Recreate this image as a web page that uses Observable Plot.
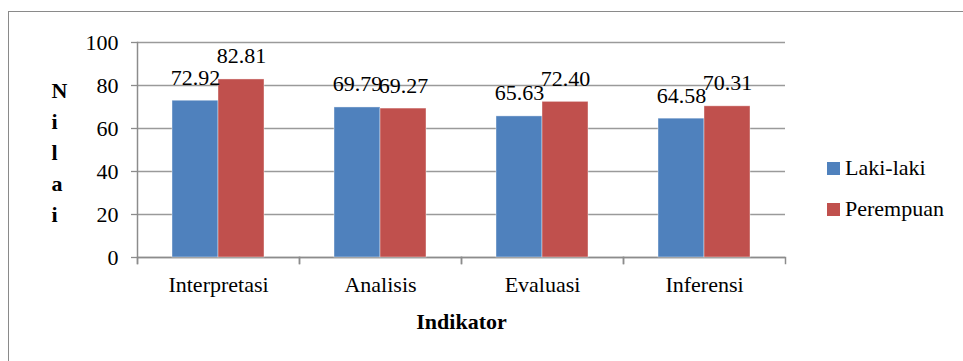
<!DOCTYPE html>
<html><head><meta charset="utf-8">
<script src="https://cdn.jsdelivr.net/npm/d3@7"></script>
<script src="https://cdn.jsdelivr.net/npm/@observablehq/plot@0.6"></script>
<style>
body{margin:0;background:#fff;}
#wrap{position:relative;width:963px;height:361px;overflow:hidden;font-family:"Liberation Serif","Times New Roman",serif;}
#border{position:absolute;left:8px;top:11px;width:1000px;height:400px;border-left:1.5px solid #8a8a8a;border-top:1.5px solid #8a8a8a;}
#chart{position:absolute;left:0;top:0;}
#legend{position:absolute;left:827px;top:156px;}
#wrap svg, #wrap svg text, #legend, #legend *{font-family:"Liberation Serif","Times New Roman",serif !important;}
#legend, #legend *{font-size:22px !important;color:#000 !important;line-height:24px !important;}
#legend .lg-swatch{padding-bottom:17px !important;margin:0 !important;display:flex;align-items:center;}
#legend .lg-swatch svg{margin-right:5px !important;}
g[aria-label="fx-axis label"] text{font-weight:bold;}
</style></head><body>
<div id="wrap"><div id="border"></div><div id="chart"></div><div id="legend"></div></div>
<script>
const categories = ["Interpretasi","Analisis","Evaluasi","Inferensi"];
const series = ["Laki-laki","Perempuan"];
const lakiLaki = [72.92,69.79,65.63,64.58];
const perempuan = [82.81,69.27,72.40,70.31];
const yTicks = [0,20,40,60,80,100];
const colors = ["#4F81BD","#C0504D"];
const yTitle = "Nilai";
const xTitle = "Indikator";

const data = [];
categories.forEach((c,i)=>{
  data.push({category:c, series:series[0], value:lakiLaki[i]});
  data.push({category:c, series:series[1], value:perempuan[i]});
});

const font = "Liberation Serif";
const gray = "#8c8c8c";
const fs = 22;
const plot = Plot.plot({
  width: 963, height: 361,
  marginLeft: 137, marginRight: 178, marginTop: 42, marginBottom: 104,
  style: {fontFamily: font, fontSize: fs + "px", color: "#000", background: "transparent", overflow: "visible"},
  fx: {domain: categories, padding: 0},
  x: {domain: series, paddingInner: 0, paddingOuter: 0.742, axis: null},
  y: {domain: [0,100], ticks: yTicks},
  color: {domain: series, range: colors},
  marks: [
    Plot.gridY(yTicks, {stroke: "#9a9a9a", strokeOpacity: 1, strokeWidth: 1.3}),
    Plot.axisY(yTicks, {tickSize: 6, tickPadding: 13, stroke: gray, strokeWidth: 1.3, label: null, fontSize: fs, fontFamily: font}),
    Plot.frame({anchor: "left", facetAnchor: "left", stroke: gray, strokeWidth: 1.5, insetBottom: -6}),
    Plot.frame({anchor: "left", stroke: gray, strokeWidth: 1.5, insetTop: 215, insetBottom: -6}),
    Plot.frame({anchor: "right", stroke: gray, strokeWidth: 1.5, insetTop: 215, insetBottom: -6}),
    Plot.ruleY([0], {stroke: gray, strokeWidth: 1.5}),
    Plot.barY(data, {fx: "category", x: "series", y: "value", fill: "series", stroke: "#fff", strokeOpacity: 0.5, strokeWidth: 0.8}),
    Plot.text(data, {fx: "category", x: "series", y: "value", text: d => d.value.toFixed(2), dy: -16, lineAnchor: "bottom", fontSize: fs, fontFamily: font}),
    Plot.axisFx({anchor: "bottom", tickSize: 0, tickPadding: 19, label: xTitle, labelAnchor: "center", labelOffset: 71, fontSize: fs, fontFamily: font}),
    Plot.text([yTitle.split("").join("\n")], {frameAnchor: "left", dx: -86, facetAnchor: "left", fontWeight: "bold", lineHeight: 1.42, fontSize: fs, fontFamily: font})
  ]
});
document.getElementById("chart").appendChild(plot);
const leg = plot.legend("color", {columns: 1, swatchSize: 13, className: "lg"});
document.getElementById("legend").appendChild(leg);
</script>
</body></html>
